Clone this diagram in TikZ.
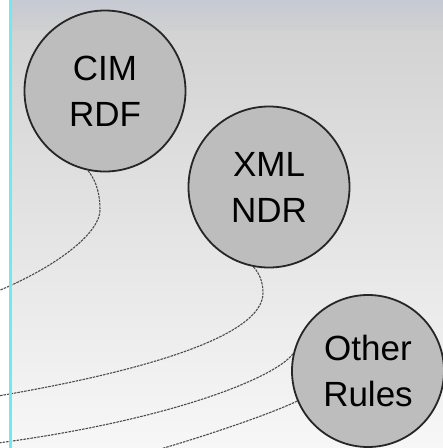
\documentclass[tikz,border=0pt]{standalone}
\usepackage{fontspec}
\setmainfont{Liberation Sans}
\usepackage{tikz}
\usetikzlibrary{shapes.geometric}
\definecolor{bgtop}{HTML}{D0D0D0}
\definecolor{bgbot}{HTML}{F7F7F7}
\definecolor{band}{HTML}{C6CAD3}
\definecolor{rulefill}{HTML}{BDBDBD}
\definecolor{edgecyan}{HTML}{70EAF0}

\begin{document}
\begin{tikzpicture}[x=1pt,y=-1pt,
                    rulenode/.style={circle, draw=black!85, line width=1.8pt, fill=rulefill,
                                     inner sep=0pt, align=center,
                                     font=\fontsize{35}{46}\selectfont},
                    mapping/.style={draw=black!70, line width=1.1pt, dash pattern=on 2.5pt off 1pt}]
  \useasboundingbox (0,0) rectangle (443,448);
  \shade[top color=bgtop, bottom color=bgbot] (0,0) rectangle (443,448);
  \shade[top color=band, bottom color=bgtop] (0,0) rectangle (443,30);
  \fill[white] (0,0) rectangle (9,448);

  \node (CIM) [rulenode, minimum size=161pt] at (105,91) {CIM\\RDF};
  \node (XML) [rulenode, minimum size=161pt] at (269,187) {XML\\NDR};
  \node (Other) [rulenode, minimum size=152pt] at (368,371) {Other\\Rules};

  \draw[mapping] (CIM.258) .. controls (97,182) and (100,195) .. (100,210)
                          .. controls (100,232) and (60,265) .. (-2,291);
  \draw[mapping] (XML.259) .. controls (260,274) and (263,283) .. (263,293)
                          .. controls (263,335) and (150,370) .. (-2,396);
  \draw[mapping] (Other.167) .. controls (275,378) and (170,420) .. (-2,443);
  \draw[mapping] (Other.203) .. controls (275,412) and (210,435) .. (150,452);

  \draw[edgecyan, line width=3pt] (10.5,0) -- (10.5,448);
\end{tikzpicture}
\end{document}
